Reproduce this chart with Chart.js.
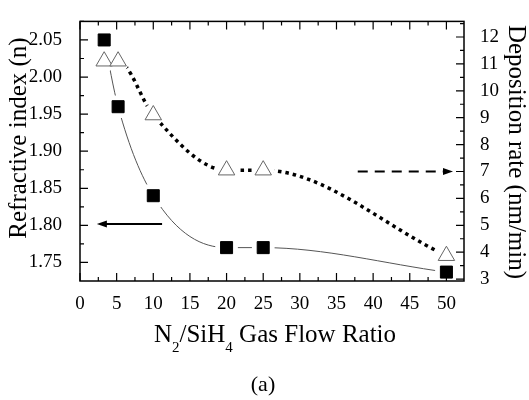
<!DOCTYPE html>
<html lang="en">
<head>
    <meta charset="UTF-8">
    <title>Refractive index and deposition rate vs N2/SiH4</title>
    <script src="https://cdn.jsdelivr.net/npm/chart.js@4.4.0/dist/chart.umd.min.js"></script>
    <style>
        body {
            margin: 0;
            background: #ffffff;
        }
        #wrap {
            width: 529px;
            height: 400px;
        }
    </style>
</head>
<body>
    <div id="wrap"><canvas id="chart" width="529" height="400"></canvas></div>

    <script>
        // values
        const flowRatio = [3.3, 5.2, 10, 20, 25, 50];
        const refIndex = [2.05, 1.96, 1.84, 1.77, 1.77, 1.737];
        const depRate = [11.1, 11.1, 9.1, 7.05, 7.05, 3.87];

        const xTicks = [0, 5, 10, 15, 20, 25, 30, 35, 40, 45, 50];
        const leftTicks = [1.75, 1.80, 1.85, 1.90, 1.95, 2.00, 2.05];
        const rightTicks = [3, 4, 5, 6, 7, 8, 9, 10, 11, 12];

        // arrows pointing to the axis each curve belongs to (data units)
        const arrowLeft = { from: 11.2, to: 2.3, y: 1.802 };
        const arrowRight = { from: 37.9, to: 50.9, y: 7.0 };

        const serif = "'Liberation Serif', 'DejaVu Serif', serif";

        const pts = (xs, ys) => xs.map((x, i) => ({ x: x, y: ys[i] }));

        function fixTicks(list) {
            return function (scale) {
                scale.ticks = list.map(v => ({ value: v }));
            };
        }

        function minorOf(list, min, max) {
            const step = list[1] - list[0];
            const out = [];
            for (let i = -1; i < list.length; i++) {
                const v = (i < 0 ? list[0] : list[i]) + (i < 0 ? -step / 2 : step / 2);
                if (v > min && v < max) out.push(v);
            }
            return out;
        }

        function drawArrow(ctx, x1, x2, y, dash) {
            const dir = x2 < x1 ? -1 : 1;
            ctx.save();
            ctx.strokeStyle = '#000';
            ctx.fillStyle = '#000';
            ctx.lineWidth = 2;
            ctx.setLineDash(dash);
            ctx.beginPath();
            ctx.moveTo(x1, y);
            ctx.lineTo(x2 - dir * 8, y);
            ctx.stroke();
            ctx.setLineDash([]);
            ctx.beginPath();
            ctx.moveTo(x2, y);
            ctx.lineTo(x2 - dir * 10, y - 3.5);
            ctx.lineTo(x2 - dir * 10, y + 3.5);
            ctx.closePath();
            ctx.fill();
            ctx.restore();
        }

        const framePlugin = {
            id: 'frame',
            afterDraw(chart) {
                const ctx = chart.ctx;
                const a = chart.chartArea;
                const sx = chart.scales.x, sy = chart.scales.y, sr = chart.scales.y2;

                // arrows
                drawArrow(ctx, sx.getPixelForValue(arrowLeft.from), sx.getPixelForValue(arrowLeft.to),
                    sy.getPixelForValue(arrowLeft.y), []);
                drawArrow(ctx, sx.getPixelForValue(arrowRight.from), sx.getPixelForValue(arrowRight.to),
                    sr.getPixelForValue(arrowRight.y), [10, 7]);

                ctx.save();
                ctx.strokeStyle = '#000';
                ctx.lineWidth = 1.5;
                ctx.strokeRect(a.left, a.top, a.right - a.left, a.bottom - a.top);

                ctx.lineWidth = 1.2;
                ctx.beginPath();
                // x ticks, bottom and top, pointing inward
                xTicks.forEach(v => {
                    const p = sx.getPixelForValue(v);
                    ctx.moveTo(p, a.bottom); ctx.lineTo(p, a.bottom - 8);
                    ctx.moveTo(p, a.top); ctx.lineTo(p, a.top + 8);
                });
                minorOf(xTicks, sx.min, sx.max).forEach(v => {
                    const p = sx.getPixelForValue(v);
                    ctx.moveTo(p, a.bottom); ctx.lineTo(p, a.bottom - 4);
                    ctx.moveTo(p, a.top); ctx.lineTo(p, a.top + 4);
                });
                leftTicks.forEach(v => {
                    const p = sy.getPixelForValue(v);
                    ctx.moveTo(a.left, p); ctx.lineTo(a.left + 8, p);
                });
                minorOf(leftTicks, sy.min, sy.max).forEach(v => {
                    const p = sy.getPixelForValue(v);
                    ctx.moveTo(a.left, p); ctx.lineTo(a.left + 4, p);
                });
                rightTicks.forEach(v => {
                    const p = sr.getPixelForValue(v);
                    ctx.moveTo(a.right, p); ctx.lineTo(a.right - 8, p);
                });
                minorOf(rightTicks, sr.min, sr.max).forEach(v => {
                    const p = sr.getPixelForValue(v);
                    ctx.moveTo(a.right, p); ctx.lineTo(a.right - 4, p);
                });
                ctx.stroke();

                // axis titles
                ctx.fillStyle = '#000';
                ctx.textAlign = 'center';
                ctx.textBaseline = 'middle';
                ctx.font = '25px ' + serif;

                ctx.save();
                ctx.translate(19, 138);
                ctx.rotate(-Math.PI / 2);
                ctx.fillText('Refractive index (n)', 0, 0);
                ctx.restore();

                ctx.save();
                ctx.translate(516, 152);
                ctx.rotate(Math.PI / 2);
                ctx.fillText('Deposition rate (nm/min)', 0, 0);
                ctx.restore();

                // x title with subscripts
                const parts = [
                    ['N', false], ['2', true], ['/SiH', false], ['4', true], [' Gas Flow Ratio', false]
                ];
                const big = '25px ' + serif, small = '15px ' + serif;
                let total = 0;
                parts.forEach(p => { ctx.font = p[1] ? small : big; total += ctx.measureText(p[0]).width; });
                let xx = 275 - total / 2;
                ctx.textAlign = 'left';
                ctx.textBaseline = 'alphabetic';
                parts.forEach(p => {
                    ctx.font = p[1] ? small : big;
                    ctx.fillText(p[0], xx, p[1] ? 352 : 342);
                    xx += ctx.measureText(p[0]).width;
                });

                ctx.textAlign = 'center';
                ctx.font = '22px ' + serif;
                ctx.fillText('(a)', 263, 391);
                ctx.restore();
            }
        };

        new Chart(document.getElementById('chart'), {
            type: 'scatter',
            data: {
                datasets: [
                    {
                        // thin curve through the squares
                        data: pts(flowRatio, refIndex),
                        yAxisID: 'y',
                        showLine: true,
                        borderColor: '#555',
                        borderWidth: 1,
                        cubicInterpolationMode: 'monotone',
                        pointRadius: 0,
                        order: 6
                    },
                    {
                        // dotted curve through the triangles
                        data: pts(flowRatio, depRate),
                        yAxisID: 'y2',
                        showLine: true,
                        borderColor: '#000',
                        borderWidth: 3.5,
                        borderDash: [3.5, 4],
                        borderCapStyle: 'butt',
                        cubicInterpolationMode: 'monotone',
                        pointRadius: 0,
                        order: 5
                    },
                    {
                        // white gap round the squares
                        data: pts(flowRatio, refIndex),
                        yAxisID: 'y',
                        pointStyle: 'rect',
                        pointRadius: 16,
                        backgroundColor: '#fff',
                        borderWidth: 0,
                        order: 4
                    },
                    {
                        // white gap round the triangles
                        data: pts(flowRatio, depRate),
                        yAxisID: 'y2',
                        pointStyle: 'circle',
                        pointRadius: 11,
                        backgroundColor: '#fff',
                        borderWidth: 0,
                        order: 3
                    },
                    {
                        label: 'Refractive index',
                        data: pts(flowRatio, refIndex),
                        yAxisID: 'y',
                        pointStyle: 'rect',
                        pointRadius: 8.5,
                        backgroundColor: '#000',
                        borderColor: '#000',
                        borderWidth: 1,
                        order: 2
                    },
                    {
                        label: 'Deposition rate',
                        data: pts(flowRatio, depRate),
                        yAxisID: 'y2',
                        pointStyle: 'triangle',
                        pointRadius: 9.5,
                        backgroundColor: '#fff',
                        borderColor: '#666',
                        borderWidth: 1,
                        order: 1
                    }
                ]
            },
            options: {
                responsive: false,
                animation: false,
                layout: { padding: { top: 8.5, left: 0, right: 0, bottom: 0 } },
                plugins: {
                    legend: { display: false },
                    tooltip: { enabled: false }
                },
                scales: {
                    x: {
                        type: 'linear',
                        min: 0,
                        max: 52.4,
                        grid: { display: false },
                        border: { display: false },
                        afterBuildTicks: fixTicks(xTicks),
                        afterFit(s) { s.height = 119; },
                        ticks: {
                            padding: 4,
                            color: '#000',
                            font: { family: serif, size: 19 }
                        }
                    },
                    y: {
                        type: 'linear',
                        position: 'left',
                        min: 1.725,
                        max: 2.075,
                        grid: { display: false },
                        border: { display: false },
                        afterBuildTicks: fixTicks(leftTicks),
                        afterFit(s) { s.width = 80; },
                        ticks: {
                            padding: 10,
                            color: '#000',
                            font: { family: serif, size: 19 },
                            callback: v => v.toFixed(2)
                        }
                    },
                    y2: {
                        type: 'linear',
                        position: 'right',
                        min: 2.93,
                        max: 12.58,
                        grid: { display: false },
                        border: { display: false },
                        afterBuildTicks: fixTicks(rightTicks),
                        afterFit(s) { s.width = 65; },
                        ticks: {
                            padding: 8,
                            color: '#000',
                            font: { family: serif, size: 19 }
                        }
                    }
                }
            },
            plugins: [framePlugin]
        });
    </script>
</body>
</html>
